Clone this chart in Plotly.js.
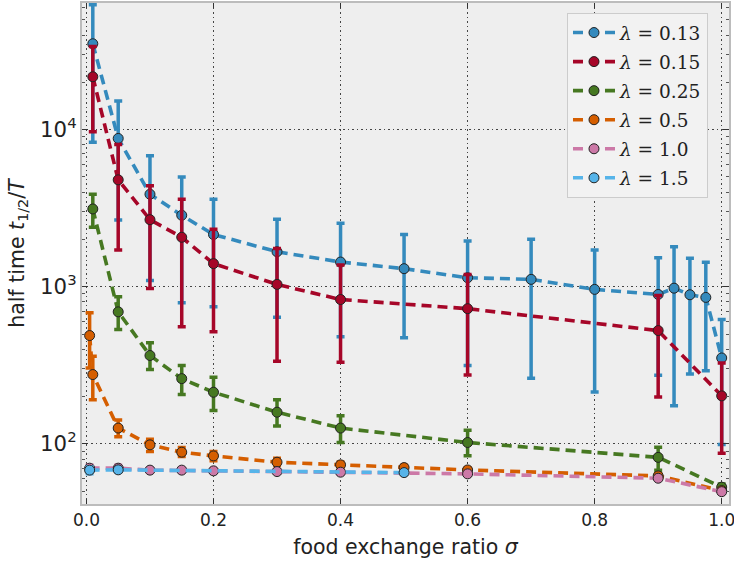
<!DOCTYPE html>
<html>
<head>
<meta charset="utf-8">
<script src="https://cdn.plot.ly/plotly-3.0.1.min.js"></script>
<style>
  html, body { margin: 0; padding: 0; background: #ffffff; }
  #chart { width: 734px; height: 564px; }
</style>
</head>
<body>
<div id="chart"></div>
<script>
// Half time versus food exchange ratio, one series per lambda.
// Each series: sigma values, half-time values, upper and lower error bounds.

const sigma013 = [0.01, 0.05, 0.1, 0.15, 0.2, 0.3, 0.4, 0.5, 0.6, 0.7, 0.8, 0.9, 0.925, 0.95, 0.975, 1.0];
const half013  = [35200, 8790, 3880, 2850, 2150, 1670, 1436, 1303, 1141, 1114, 962, 893, 979, 889, 855, 352];
const upper013 = [62400, 15200, 6820, 5000, 3606, 2685, 2535, 2148, 1955, 2005, 1713, 1531, 1799, 1517, 1429, 618];
const lower013 = [8300, 2660, 1097, 790, 745, 640, 480, 473, 315, 261, 214, 273, 175, 278, 292, 99];

const sigma015 = [0.01, 0.05, 0.1, 0.15, 0.2, 0.3, 0.4, 0.6, 0.9, 1.0];
const half015  = [21700, 4790, 2672, 2065, 1403, 1035, 829, 725, 526, 202];
const upper015 = [33800, 8050, 4385, 3606, 2323, 1754, 1374, 1197, 880, 327];
const lower015 = [9700, 1713, 975, 556, 517, 335, 330, 274, 199, 87];

const sigma025 = [0.01, 0.05, 0.1, 0.15, 0.2, 0.3, 0.4, 0.6, 0.9, 1.0];
const half025  = [3126, 692, 365, 260, 213, 159, 126, 102, 82, 53];
const upper025 = [3880, 863, 440, 315, 265, 191, 151, 122, 95, 55.5];
const lower025 = [2390, 535, 297, 206, 163, 130, 102, 84, 68, 50.5];

const sigma050 = [0.005, 0.01, 0.05, 0.1, 0.15, 0.2, 0.3, 0.4, 0.5, 0.6, 0.9, 1.0];
const half050  = [489, 276, 126, 98.5, 88.5, 83.8, 76.4, 73.5, 70.6, 68.2, 62.5, 50.4];
const upper050 = [682, 361, 142, 107, 94.7, 89.3, 81, 76.5, 73, 70.5, 64.5, 52];
const lower050 = [304, 191, 111, 89.3, 83, 78, 72.8, 70.8, 68.3, 66, 60.8, 49];

const sigma100 = [0.005, 0.05, 0.1, 0.15, 0.2, 0.3, 0.4, 0.6, 0.9, 1.0];
const half100  = [70, 70, 68, 68, 67.3, 66.6, 66, 64.4, 60.4, 49.6];
const upper100 = [73, 73, 69.5, 69.5, 68.8, 68, 67.4, 65.8, 61.6, 50.6];
const lower100 = [67, 67, 66.5, 66.5, 65.8, 65.2, 64.6, 63, 59.2, 48.6];

const sigma150 = [0.005, 0.05, 0.5];
const half150  = [68, 68.3, 65.6];
const upper150 = [71.5, 70.5, 67.2];
const lower150 = [64.5, 66.1, 64];

const labels = ['0.13', '0.15', '0.25', '0.5', '1.0', '1.5'];
const colors = ['#348ABD', '#A60628', '#467821', '#D55E00', '#CC79A7', '#56B4E9'];

const series = [
  [sigma013, half013, upper013, lower013],
  [sigma015, half015, upper015, lower015],
  [sigma025, half025, upper025, lower025],
  [sigma050, half050, upper050, lower050],
  [sigma100, half100, upper100, lower100],
  [sigma150, half150, upper150, lower150]
];

const traces = series.map(function (s, i) {
  const xs = s[0], ys = s[1], hi = s[2], lo = s[3];
  return {
    type: 'scatter',
    mode: 'lines+markers',
    x: xs,
    y: ys,
    name: '<i>λ</i> = ' + labels[i],
    legendgroup: 'g' + i,
    line: { color: colors[i], width: 3.6, dash: '10px,6px' },
    marker: { color: colors[i], size: 10, line: { color: '#222222', width: 1 } },
    error_y: {
      type: 'data',
      symmetric: false,
      array: hi.map(function (v, k) { return v - ys[k]; }),
      arrayminus: lo.map(function (v, k) { return ys[k] - v; }),
      color: colors[i],
      thickness: 3.5,
      width: 4
    }
  };
});

const tickFont = { family: 'DejaVu Sans, sans-serif', size: 17, color: '#222222' };
const titleFont = { family: 'DejaVu Sans, sans-serif', size: 20.5, color: '#222222' };

const layout = {
  width: 734,
  height: 564,
  margin: { l: 82, r: 5, t: 3, b: 60 },
  paper_bgcolor: '#FFFFFF',
  plot_bgcolor: '#EEEEEE',
  showlegend: true,
  xaxis: {
    range: [-0.007, 1.0115],
    tickvals: [0, 0.2, 0.4, 0.6, 0.8, 1.0],
    tickformat: '.1f',
    ticklabeloverflow: 'allow',
    ticks: 'inside',
    ticklen: 5,
    tickwidth: 1,
    tickcolor: '#333333',
    showline: true,
    linecolor: '#BCBCBC',
    linewidth: 2,
    mirror: 'allticks',
    showgrid: true,
    gridcolor: '#444444',
    griddash: '1.5px,3px',
    gridwidth: 1,
    zeroline: false,
    automargin: false,
    tickfont: tickFont,
    title: { text: 'food exchange ratio <i>σ</i>', font: titleFont, standoff: 10 }
  },
  yaxis: {
    type: 'log',
    range: [1.617, 4.806],
    dtick: 1,
    exponentformat: 'power',
    ticks: 'inside',
    ticklen: 6,
    tickwidth: 1,
    tickcolor: '#333333',
    minor: { ticks: 'inside', ticklen: 3, tickcolor: '#555555', showgrid: false },
    showline: true,
    linecolor: '#BCBCBC',
    linewidth: 2,
    mirror: 'allticks',
    showgrid: true,
    gridcolor: '#444444',
    griddash: '1.5px,3px',
    gridwidth: 1,
    zeroline: false,
    automargin: false,
    tickfont: tickFont,
    title: { text: 'half time <i>t</i><sub>1/2</sub>/<i>T</i>', font: titleFont, standoff: 10 }
  },
  legend: {
    x: 0.7496,
    y: 0.98,
    xanchor: 'left',
    yanchor: 'top',
    bgcolor: '#F2F2F2',
    bordercolor: '#CCCCCC',
    borderwidth: 1,
    itemwidth: 42,
    tracegroupgap: 2,
    font: { family: 'DejaVu Serif, serif', size: 18.5, color: '#222222' }
  }
};

Plotly.newPlot('chart', traces, layout, { displayModeBar: false, staticPlot: true });
</script>
</body>
</html>
